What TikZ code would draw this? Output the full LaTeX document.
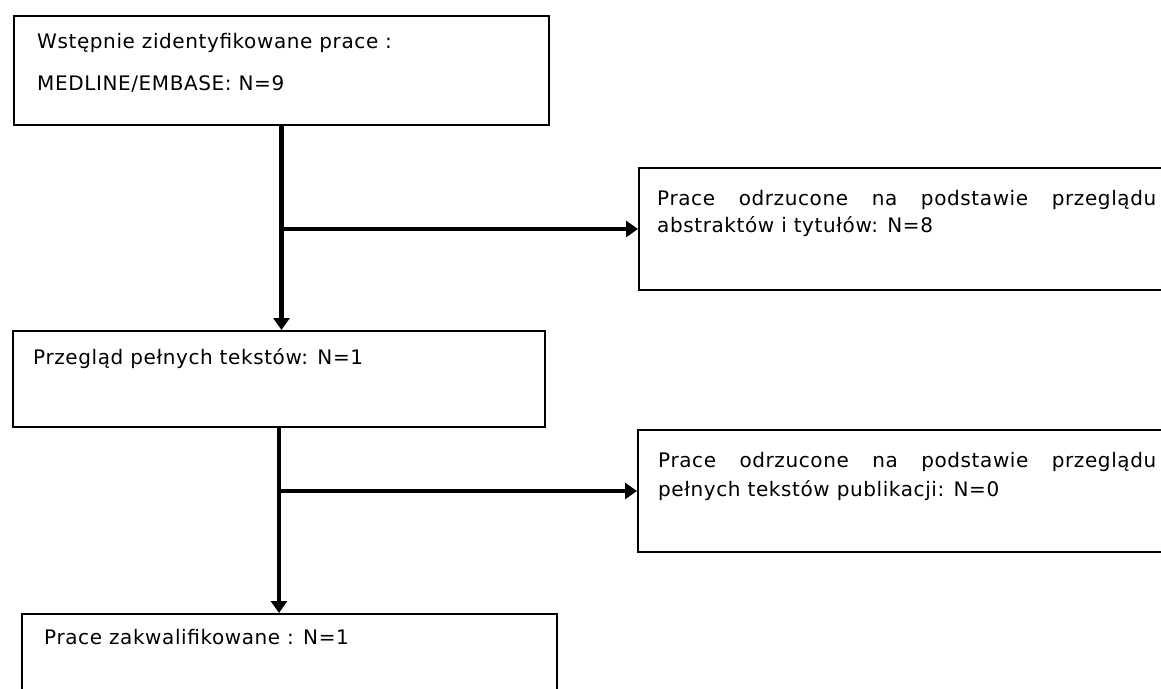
\documentclass[tikz,border=0pt]{standalone}
\usepackage{fontspec}
\newfontfamily\diagfont{DejaVu Sans}[LetterSpace=3.0]
\usetikzlibrary{arrows.meta}
\begin{document}
\begin{tikzpicture}[x=1pt,y=-1pt,
  boxa/.style={draw=black, line width=2pt, inner sep=0pt, anchor=north west},
  txt/.style={anchor=base west, inner sep=0pt, font=\diagfont\fontsize{20pt}{28pt}\selectfont},
  arr/.style={line width=4.2pt, -{Triangle[width=16pt,length=12pt]}}
]
\useasboundingbox (0,0) rectangle (1161,688);
\fill[white] (0,0) rectangle (1161,688);
\clip (0,0) rectangle (1161,688);
% boxes
\node[boxa, minimum width=535pt, minimum height=109pt] (b1) at (13,15) {};
\node[boxa, minimum width=540pt, minimum height=122pt] (r1) at (638,167) {};
\node[boxa, minimum width=532pt, minimum height=96pt] (b2) at (12,330) {};
\node[boxa, minimum width=540pt, minimum height=122pt] (r2) at (637,429) {};
\node[boxa, minimum width=535pt, minimum height=110pt] (b3) at (21,613) {};
% texts
\node[txt] (t1a) at (37,48) {Wstępnie zidentyfikowane prace :};
\node[txt] (t1b) at (37,90) {MEDLINE/EMBASE: N=9};
\node[txt] (r1a) at (657,205) {\makebox[499pt][s]{Prace odrzucone na podstawie przeglądu}};
\node[txt] (r1b) at (657,232) {abstraktów i tytułów: N=8};
\node[txt] (t2) at (33,364) {Przegląd pełnych tekstów: N=1};
\node[txt] (r2a) at (658,467) {\makebox[498pt][s]{Prace odrzucone na podstawie przeglądu}};
\node[txt] (r2b) at (658,496) {pełnych tekstów publikacji: N=0};
\node[txt] (t3) at (44,644) {Prace zakwalifikowane : N=1};
% connectors
\coordinate (j1) at (b1.south |- r1.west);
\coordinate (j2) at (b2.south |- r2.west);
\draw[arr] (b1.south) -- (b1.south |- b2.north);
\draw[arr] (j1) -- (r1.west);
\draw[arr] (b2.south) -- (b2.south |- b3.north);
\draw[arr] (j2) -- (r2.west);
\end{tikzpicture}
\end{document}
